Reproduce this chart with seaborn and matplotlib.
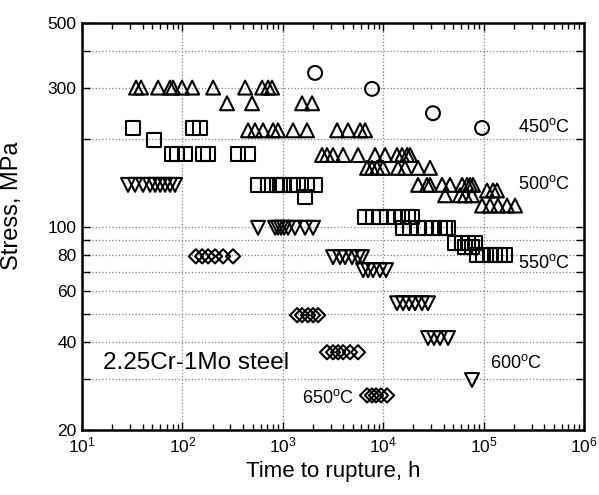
import numpy as np
import matplotlib
matplotlib.use("Agg")
import matplotlib.pyplot as plt
import seaborn as sns
from matplotlib.ticker import LogLocator, NullFormatter, NullLocator

# 450 C (circles)
t450 = [2094, 7730, 31300, 96400]
s450 = [337, 297, 245, 218]

# 500 C (triangles up)
t500 = [34.5, 38.7, 57.2, 75.2, 80.5, 99, 125, 202, 421, 621, 713, 780,
        278, 493, 1553, 1955,
        450, 528, 635, 799, 895, 1264, 1742, 3467, 4460, 5870, 6590,
        2455, 2754, 3162, 3981, 5610, 8280, 10420, 13710, 15390, 17270, 18500,
        6900, 7730, 8670, 9950, 14030, 16490, 22230, 29250,
        22230, 27300, 29250, 38550, 46250, 60950, 68400, 73300, 78400,
        41300, 58200, 65300, 76600,
        108100, 124100, 135900,
        96400, 115800, 139000, 171000, 205600]
s500 = [300, 300, 300, 300, 300, 300, 300, 300, 300, 300, 300, 300,
        265, 265, 265, 265,
        214, 214, 214, 214, 214, 214, 214, 214, 214, 214, 214,
        176, 176, 176, 176, 176, 176, 176, 176, 176, 176, 176,
        159, 159, 159, 159, 159, 159, 159, 159,
        139, 139, 139, 139, 139, 139, 139, 139, 139,
        128, 128, 128, 128,
        133, 133, 133,
        118, 118, 118, 118, 118]

# 550 C (squares)
t550 = [32.2, 128, 150,
        52,
        78.7, 88.3, 106, 160, 180, 358, 450,
        566, 713, 875, 937, 1005, 1180, 1417, 1742, 2094,
        1664,
        6590, 7910, 9290, 10910, 13120, 15390, 17660, 19360,
        15740, 18500, 22230, 26060, 31330, 36800, 41300, 44200,
        51900, 60950, 69900, 82100,
        65300, 76600,
        85900, 98600, 115800, 130000, 145600, 163300]
s550 = [218, 218, 218,
        198,
        177, 177, 177, 177, 177, 177, 177,
        139, 139, 139, 139, 139, 139, 139, 139, 139,
        126,
        108, 108, 108, 108, 108, 108, 108, 108,
        99, 99, 99, 99, 99, 99, 99, 99,
        88, 88, 88, 88,
        85, 85,
        80, 80, 80, 80, 80, 80]

# 600 C (triangles down)
t600 = [28.7, 33.7, 40.5, 47.6, 53.4, 59.9, 67.2, 75.2, 84.4,
        566, 836, 895, 960, 1028, 1127, 1324, 1664, 2000,
        3162, 3715, 4168, 4890, 5610, 6150,
        6300, 7060, 7910, 9290, 10670,
        13710, 15740, 18070, 20750, 24330, 27930,
        27930, 32060, 36800, 44200,
        76600]
s600 = [139, 139, 139, 139, 139, 139, 139, 139, 139,
        99, 99, 99, 99, 99, 99, 99, 99, 99,
        78.5, 78.5, 78.5, 78.5, 78.5, 78.5,
        70.8, 70.8, 70.8, 70.8, 70.8,
        54.5, 54.5, 54.5, 54.5, 54.5, 54.5,
        41.4, 41.4, 41.4, 41.4,
        29.7]

# 650 C (diamonds)
t650 = [136, 157, 180, 211, 254, 319,
        1385, 1553, 1782, 2000, 2244,
        2754, 3162, 3548, 3981, 4670, 5610,
        6900, 7730, 8470, 9500, 10910]
s650 = [79, 79, 79, 79, 79, 79,
        49.6, 49.6, 49.6, 49.6, 49.6,
        37, 37, 37, 37, 37, 37,
        26.3, 26.3, 26.3, 26.3, 26.3]

y_ticks = [20, 30, 40, 50, 60, 70, 80, 90, 100, 200, 300, 400, 500]
y_labels = ["20", "", "40", "", "60", "", "80", "", "100", "", "300", "", "500"]

sns.set_style("ticks")
plt.rcParams["font.family"] = ["Liberation Sans", "DejaVu Sans"]
plt.rcParams["mathtext.fontset"] = "custom"
plt.rcParams["mathtext.rm"] = "Liberation Sans"
plt.rcParams["mathtext.it"] = "Liberation Sans:italic"
plt.rcParams["text.color"] = "black"
plt.rcParams["axes.labelcolor"] = "black"
plt.rcParams["xtick.color"] = "black"
plt.rcParams["ytick.color"] = "black"

fig = plt.figure(figsize=(5.99, 4.95), dpi=100)
ax = fig.add_axes([0.137, 0.1313, 0.838, 0.8222])

marks = [(t450, s450, "o", 100), (t500, s500, "^", 100), (t550, s550, "s", 100),
         (t600, s600, "v", 100), (t650, s650, "D", 52)]
for tt, ss, m, sz in marks:
    sns.scatterplot(x=tt, y=ss, marker=m, s=sz, facecolor="none",
                    edgecolor="black", linewidth=1.5, ax=ax, zorder=3)

ax.set_xscale("log")
ax.set_yscale("log")
ax.set_xlim(10, 1e6)
ax.set_ylim(20, 500)

ax.xaxis.set_major_locator(LogLocator(base=10, numticks=10))
ax.xaxis.set_minor_locator(LogLocator(base=10, subs=np.arange(2, 10), numticks=20))
ax.xaxis.set_minor_formatter(NullFormatter())
ax.set_yticks(y_ticks, labels=y_labels)
ax.yaxis.set_minor_locator(NullLocator())

ax.set_axisbelow(True)
ax.grid(True, which="major", ls=":", color="gray", lw=0.9)
ax.tick_params(which="both", direction="in", top=True, right=True,
               width=1, labelsize=12.5, colors="black")
ax.tick_params(which="major", length=6, pad=4)
ax.tick_params(which="minor", length=4)
for sp in ax.spines.values():
    sp.set_linewidth(1.8)
    sp.set_color("black")

ax.set_xlabel("Time to rupture, h", fontsize=16, labelpad=4)
ax.set_ylabel("Stress, MPa", fontsize=17)
ax.yaxis.set_label_coords(-0.118, 0.55)

lab = dict(transform=ax.transAxes, fontsize=13, va="center", ha="left")
ax.text(0.868, 0.744, "450$^{\\rm o}$C", **lab)
ax.text(0.868, 0.604, "500$^{\\rm o}$C", **lab)
ax.text(0.868, 0.410, "550$^{\\rm o}$C", **lab)
ax.text(0.813, 0.165, "600$^{\\rm o}$C", **lab)
ax.text(0.438, 0.079, "650$^{\\rm o}$C", **lab)
ax.text(0.042, 0.165, "2.25Cr-1Mo steel", transform=ax.transAxes,
        fontsize=17.5, va="center", ha="left")

fig.savefig("out.png", dpi=100)
